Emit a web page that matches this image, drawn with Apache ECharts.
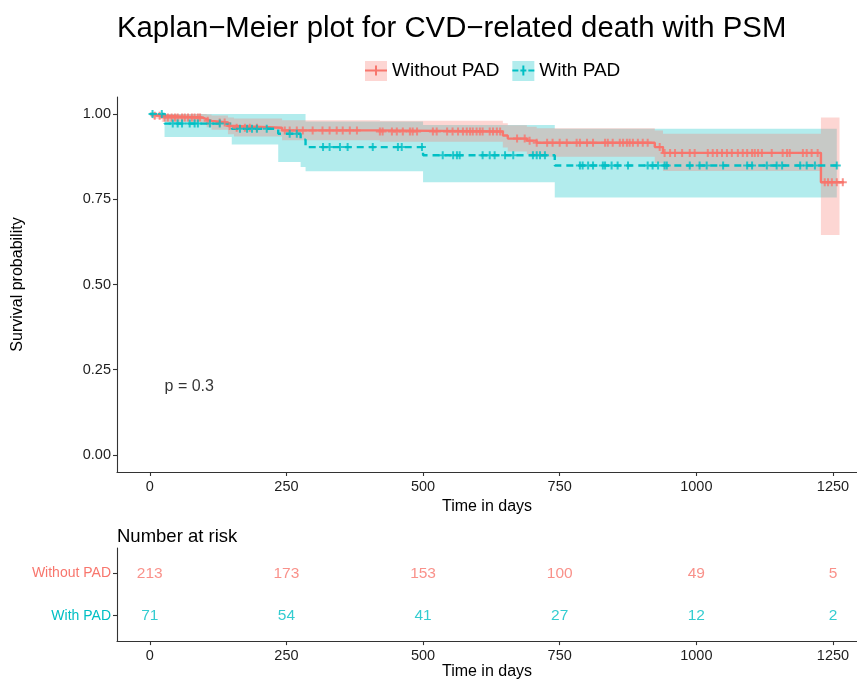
<!DOCTYPE html>
<html>
<head>
<meta charset="utf-8">
<script src="https://cdn.jsdelivr.net/npm/echarts@6/dist/echarts.min.js"></script>
<style>
  html, body { margin: 0; padding: 0; background: #ffffff; }
  #chart { width: 857px; height: 681px; }
</style>
</head>
<body>
<div id="chart"></div>
<script>
// Axis ticks
const timeTicks = [0, 250, 500, 750, 1000, 1250];
const probTicks = [0, 0.25, 0.5, 0.75, 1];
const groupNames = ['Without PAD', 'With PAD'];

// Kaplan–Meier estimate, Without PAD (step starts, survival, 95% CI)
const noPadTime  = [0, 5, 22, 95, 104, 113, 143, 154, 242, 421, 646, 655, 690, 708, 924, 939, 1228];
const noPadSurv  = [1, 0.995, 0.990, 0.985, 0.980, 0.975, 0.965, 0.960, 0.952, 0.949, 0.937, 0.928, 0.922, 0.916, 0.903, 0.886, 0.800];
const noPadLower = [1, 0.986, 0.977, 0.969, 0.961, 0.954, 0.941, 0.934, 0.923, 0.919, 0.902, 0.890, 0.882, 0.875, 0.856, 0.833, 0.645];
const noPadUpper = [1, 1, 1, 1, 0.999, 0.996, 0.990, 0.987, 0.982, 0.980, 0.973, 0.967, 0.963, 0.958, 0.952, 0.942, 0.990];
const noPadLast = 1270;
const noPadBandEnd = 1262;
const noPadCensor = [9, 18, 27, 33, 40, 46, 51, 59, 64, 70, 77, 82, 88, 92, 106, 128, 137, 146, 159, 174, 183, 196,
  247, 256, 269, 280, 298, 316, 329, 342, 353, 366, 379, 421, 426, 443, 452, 463, 476, 481, 489, 518, 525, 544, 554,
  564, 573, 580, 586, 591, 598, 604, 609, 622, 628, 635, 641, 672, 686, 695, 708, 727, 737, 750, 763, 781, 787, 800,
  811, 833, 838, 847, 860, 866, 873, 878, 884, 893, 902, 911, 933, 942, 952, 961, 974, 988, 997, 1021, 1030, 1038,
  1047, 1056, 1065, 1076, 1085, 1093, 1102, 1107, 1113, 1120, 1138, 1158, 1166, 1171, 1195, 1202, 1211, 1222, 1235,
  1241, 1248, 1257, 1268];

// Kaplan–Meier estimate, With PAD
const padTime  = [0, 27, 150, 235, 276, 285, 500, 741];
const padSurv  = [1, 0.972, 0.957, 0.942, 0.925, 0.903, 0.879, 0.849];
const padLower = [1, 0.933, 0.911, 0.859, 0.845, 0.832, 0.800, 0.755];
const padUpper = [1, 1, 1, 1, 1, 0.978, 0.968, 0.957];
const padLast = 1262;
const padBandEnd = 1257;
const padCensor = [5, 22, 42, 51, 59, 73, 82, 88, 110, 128, 165, 178, 187, 196, 214, 256, 269, 317, 329, 348, 362,
  408, 454, 461, 498, 536, 555, 562, 567, 609, 622, 631, 650, 665, 701, 708, 714, 723, 787, 792, 802, 811, 829, 833,
  845, 856, 875, 911, 920, 930, 942, 946, 988, 1006, 1019, 1049, 1093, 1102, 1129, 1147, 1157, 1190, 1202, 1217, 1257];

// Number at risk at each time tick
const riskNoPad = [213, 173, 153, 100, 49, 5];
const riskPad = [71, 54, 41, 27, 12, 2];

const pValueText = 'p = 0.3';
const pValuePos = [27, 0.2];

const RED = '#F8766D';
const CYAN = '#00BFC4';
const RED_BAND = 'rgba(248,118,109,0.3)';
const CYAN_BAND = 'rgba(0,191,196,0.3)';
const FONT = '"Liberation Sans", Arial, Helvetica, sans-serif';
const AXIS_COLOR = '#333333';
const TEXT_COLOR = '#1e1e1e';

function survivalAt(times, surv, t) {
  let s = surv[0];
  for (let i = 0; i < times.length; i++) {
    if (times[i] <= t) s = surv[i];
  }
  return s;
}

function stepLine(times, surv, last) {
  const pts = times.map((t, i) => [t, surv[i]]);
  pts.push([last, surv[surv.length - 1]]);
  return pts;
}

function bandRenderer(times, lower, upper, end, color) {
  return function (params, api) {
    const n = times.length;
    const pts = [];
    for (let i = 0; i < n; i++) {
      const t1 = i < n - 1 ? times[i + 1] : end;
      pts.push(api.coord([times[i], upper[i]]), api.coord([t1, upper[i]]));
    }
    for (let i = n - 1; i >= 0; i--) {
      const t1 = i < n - 1 ? times[i + 1] : end;
      pts.push(api.coord([t1, lower[i]]), api.coord([times[i], lower[i]]));
    }
    return { type: 'polygon', shape: { points: pts }, style: { fill: color } };
  };
}

const censorSymbol = 'path://M3,0H5V8H3ZM0,3H8V5H0Z';
const legendSolid = 'path://M0,9H22V11H0ZM10,5H12V15H10Z';
const legendDashed = 'path://M0,9H6V11H0ZM8,9H14V11H8ZM10,5H12V15H10ZM16,9H22V11H16Z';

const xMin = -60, xMax = 1294;

const chart = echarts.init(document.getElementById('chart'), null, { renderer: 'canvas' });

function axisLine() {
  return { show: true, onZero: false, lineStyle: { color: AXIS_COLOR, width: 1.1 } };
}
function axisTick(values) {
  return { show: true, length: 4, customValues: values, lineStyle: { color: AXIS_COLOR, width: 1.1 } };
}

const option = {
  backgroundColor: '#ffffff',
  animation: false,
  textStyle: { fontFamily: FONT },
  title: [
    {
      text: 'Kaplan\u2212Meier plot for CVD\u2212related death with PSM',
      left: 112, top: 9,
      textStyle: { fontFamily: FONT, fontSize: 29.3, fontWeight: 'normal', color: '#000' }
    },
    {
      text: 'Number at risk',
      left: 112, top: 522,
      textStyle: { fontFamily: FONT, fontSize: 18.5, fontWeight: 'normal', color: '#000' }
    }
  ],
  legend: [
    {
      left: 360, top: 56,
      itemWidth: 22, itemHeight: 20, itemGap: 13,
      selectedMode: false,
      textStyle: { fontFamily: FONT, fontSize: 19, color: 'rgba(0,0,0,0)' },
      data: [
        { name: groupNames[0], icon: 'rect', itemStyle: { color: RED_BAND } },
        { name: groupNames[1], icon: 'rect', itemStyle: { color: CYAN_BAND } }
      ],
      z: 1
    },
    {
      left: 360, top: 56,
      itemWidth: 22, itemHeight: 20, itemGap: 13,
      selectedMode: false,
      textStyle: { fontFamily: FONT, fontSize: 19, color: '#000' },
      data: [
        { name: groupNames[0], icon: legendSolid, itemStyle: { color: RED } },
        { name: groupNames[1], icon: legendDashed, itemStyle: { color: CYAN } }
      ],
      z: 2
    }
  ],
  grid: [
    { left: 117, right: 0, top: 97, bottom: 209, containLabel: false },
    { left: 117, right: 0, top: 548, bottom: 39, containLabel: false }
  ],
  xAxis: [
    {
      gridIndex: 0, type: 'value', min: xMin, max: xMax,
      axisLine: axisLine(), axisTick: axisTick(timeTicks), splitLine: { show: false },
      axisLabel: { customValues: timeTicks, margin: 7, fontFamily: FONT, fontSize: 14.5, color: TEXT_COLOR,
        formatter: v => String(v) },
      name: 'Time in days', nameLocation: 'middle', nameGap: 21,
      nameTextStyle: { fontFamily: FONT, fontSize: 16, color: '#000' }
    },
    {
      gridIndex: 1, type: 'value', min: xMin, max: xMax,
      axisLine: axisLine(), axisTick: axisTick(timeTicks), splitLine: { show: false },
      axisLabel: { customValues: timeTicks, margin: 7, fontFamily: FONT, fontSize: 14.5, color: TEXT_COLOR,
        formatter: v => String(v) },
      name: 'Time in days', nameLocation: 'middle', nameGap: 21,
      nameTextStyle: { fontFamily: FONT, fontSize: 16, color: '#000' }
    }
  ],
  yAxis: [
    {
      gridIndex: 0, type: 'value', min: -0.05, max: 1.05,
      axisLine: axisLine(), axisTick: axisTick(probTicks), splitLine: { show: false },
      axisLabel: {
        customValues: probTicks, margin: 6, fontFamily: FONT, fontSize: 14.5, color: TEXT_COLOR,
        formatter: v => v.toFixed(2)
      },
      name: 'Survival probability', nameLocation: 'middle', nameGap: 91,
      nameTextStyle: { fontFamily: FONT, fontSize: 16, color: '#000' }
    },
    {
      gridIndex: 1, type: 'value', min: 0.4, max: 2.6,
      axisLine: axisLine(), axisTick: axisTick([1, 2]), splitLine: { show: false },
      axisLabel: {
        customValues: [1, 2], margin: 6, fontFamily: FONT, fontSize: 14,
        formatter: v => (v === 2 ? '{a|' + groupNames[0] + '}' : '{b|' + groupNames[1] + '}'),
        rich: {
          a: { color: RED, fontFamily: FONT, fontSize: 14 },
          b: { color: CYAN, fontFamily: FONT, fontSize: 14 }
        }
      }
    }
  ],
  series: [
    {
      type: 'custom', name: 'band-pad', xAxisIndex: 0, yAxisIndex: 0, z: 1,
      silent: true, data: [[0, 1]],
      renderItem: bandRenderer(padTime, padLower, padUpper, padBandEnd, CYAN_BAND)
    },
    {
      type: 'custom', name: 'band-nopad', xAxisIndex: 0, yAxisIndex: 0, z: 1,
      silent: true, data: [[0, 1]],
      renderItem: bandRenderer(noPadTime, noPadLower, noPadUpper, noPadBandEnd, RED_BAND)
    },
    {
      type: 'line', name: groupNames[0], xAxisIndex: 0, yAxisIndex: 0, z: 3,
      step: 'end', symbol: 'none', showSymbol: false,
      color: RED,
      lineStyle: { color: RED, width: 2.4 },
      data: stepLine(noPadTime, noPadSurv, noPadLast)
    },
    {
      type: 'line', name: groupNames[1], xAxisIndex: 0, yAxisIndex: 0, z: 3,
      step: 'end', symbol: 'none', showSymbol: false,
      color: CYAN,
      lineStyle: { color: CYAN, width: 2.4, type: [7, 5] },
      data: stepLine(padTime, padSurv, padLast)
    },
    {
      type: 'scatter', name: 'censor-nopad', xAxisIndex: 0, yAxisIndex: 0, z: 4,
      symbol: censorSymbol, symbolSize: 8, silent: true,
      itemStyle: { color: RED },
      data: noPadCensor.map(t => [t, survivalAt(noPadTime, noPadSurv, t)])
    },
    {
      type: 'scatter', name: 'censor-pad', xAxisIndex: 0, yAxisIndex: 0, z: 4,
      symbol: censorSymbol, symbolSize: 8, silent: true,
      itemStyle: { color: CYAN },
      data: padCensor.map(t => [t, survivalAt(padTime, padSurv, t)])
    },
    {
      type: 'scatter', name: 'pvalue', xAxisIndex: 0, yAxisIndex: 0, z: 5,
      symbolSize: 0, silent: true,
      label: {
        show: true, position: 'inside', align: 'left', verticalAlign: 'middle',
        formatter: pValueText, fontFamily: FONT, fontSize: 16, color: '#000'
      },
      data: [pValuePos]
    },
    {
      type: 'scatter', name: 'risk-nopad', xAxisIndex: 1, yAxisIndex: 1,
      symbolSize: 0, silent: true,
      label: {
        show: true, position: 'inside', fontFamily: FONT, fontSize: 15.5, color: RED,
        formatter: p => String(p.value[2])
      },
      data: timeTicks.map((t, i) => [t, 2, riskNoPad[i]])
    },
    {
      type: 'scatter', name: 'risk-pad', xAxisIndex: 1, yAxisIndex: 1,
      symbolSize: 0, silent: true,
      label: {
        show: true, position: 'inside', fontFamily: FONT, fontSize: 15.5, color: CYAN,
        formatter: p => String(p.value[2])
      },
      data: timeTicks.map((t, i) => [t, 1, riskPad[i]])
    }
  ]
};

chart.setOption(option);
</script>
</body>
</html>
